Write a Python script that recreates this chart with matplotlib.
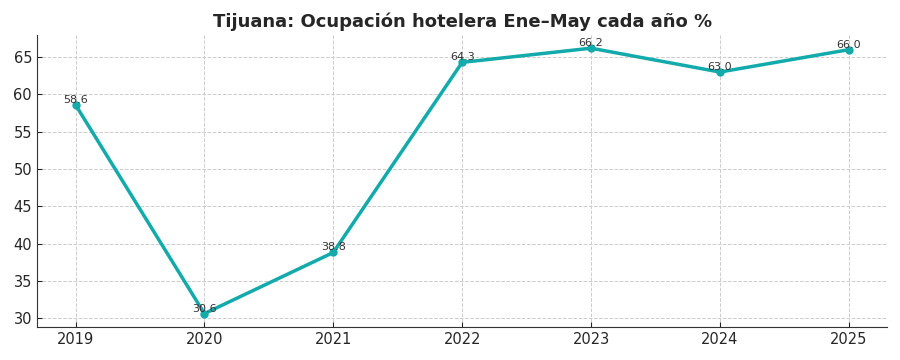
import matplotlib.pyplot as plt

years = [2019, 2020, 2021, 2022, 2023, 2024, 2025]
ocupacion = [58.6, 30.6, 38.8, 64.3, 66.2, 63.0, 66.0]

fig, ax = plt.subplots(figsize=(9, 3.6), dpi=100)
fig.subplots_adjust(left=0.041, right=0.986, bottom=0.092, top=0.903)

ax.plot(years, ocupacion, color='#12aaaa', linewidth=2.5, marker='o', markersize=5)
for x, y in zip(years, ocupacion):
    ax.text(x, y, f'{y:.1f}', ha='center', va='bottom', fontsize=8, color='#333333')

ax.set_title('Tijuana: Ocupación hotelera Ene–May cada año %', fontsize=13,
             fontweight='bold', color='#262626')
ax.set_xticks(years)
ax.set_yticks([30, 35, 40, 45, 50, 55, 60, 65])
ax.tick_params(direction='in', labelsize=10.5, colors='#262626')
ax.grid(True, linestyle='--', color='#cccccc', linewidth=0.7)
ax.spines['top'].set_visible(False)
ax.spines['right'].set_visible(False)
for s in ['left', 'bottom']:
    ax.spines[s].set_color('#333333')

plt.savefig('out.png')
